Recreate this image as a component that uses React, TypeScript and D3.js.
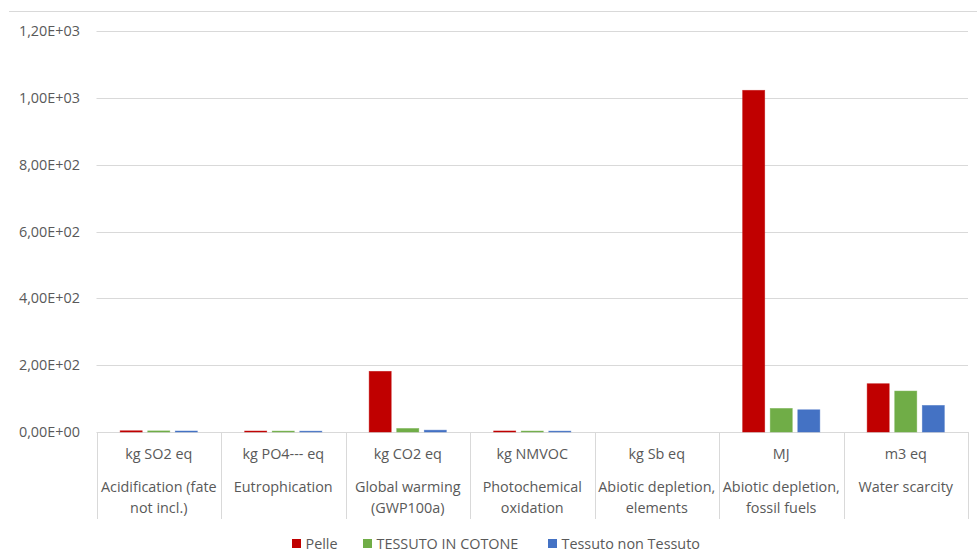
import React from "react";
import * as d3 from "d3";

const units = ["kg SO2 eq", "kg PO4--- eq", "kg CO2 eq", "kg NMVOC", "kg Sb eq", "MJ", "m3 eq"];
const categories = [
  ["Acidification (fate", "not incl.)"],
  ["Eutrophication"],
  ["Global warming", "(GWP100a)"],
  ["Photochemical", "oxidation"],
  ["Abiotic depletion,", "elements"],
  ["Abiotic depletion,", "fossil fuels"],
  ["Water scarcity"],
];
const seriesNames = ["Pelle", "TESSUTO IN COTONE", "Tessuto non Tessuto"];
const pelle = [2.2, 1.4, 180, 1.6, 0, 1021, 143];
const cotone = [1.8, 1.2, 9, 1.3, 0, 69, 121];
const tnt = [1.5, 1.0, 4, 1.1, 0, 65, 78];
const yTicks = [0, 200, 400, 600, 800, 1000, 1200];
const colors = ["#C00000", "#70AD47", "#4472C4"];

const W = 977;
const H = 551;
const left = 96.5;
const right = 968;
const top = 31;
const bottom = 432;
const font = "'Open Sans', 'Liberation Sans', sans-serif";
const textColor = "#595959";
const gridColor = "#D9D9D9";
const fs = 14.4;

const fmt = (v: number) => {
  const s = v.toExponential(2).toUpperCase().replace(".", ",");
  return s.replace(/E([+-])(\d)$/, "E$10$2");
};

export default function App() {
  const series = [pelle, cotone, tnt];
  const y = d3.scaleLinear().domain([0, 1200]).range([bottom, top]);
  const x = d3
    .scaleBand<number>()
    .domain(d3.range(units.length))
    .range([left, right])
    .paddingInner(0)
    .paddingOuter(0);
  const bw = x.bandwidth();
  const groupW = bw * 0.62;
  const inner = d3
    .scaleBand<number>()
    .domain(d3.range(series.length))
    .range([0, groupW])
    .paddingInner(0.2);

  return (
    <svg
      width={W}
      height={H}
      style={{ position: "absolute", left: 0, top: 0, background: "#fff" }}
      fontFamily={font}
    >
      <line x1={9} x2={W} y1={11.5} y2={11.5} stroke={gridColor} strokeWidth={1} />
      {yTicks.map((t) => (
        <g key={t}>
          <line
            x1={left}
            x2={right}
            y1={Math.round(y(t)) + 0.5}
            y2={Math.round(y(t)) + 0.5}
            stroke={gridColor}
            strokeWidth={1}
          />
          <text
            x={80}
            y={y(t) + 5}
            textAnchor="end"
            fontSize={fs}
            fill={textColor}
          >
            {fmt(t)}
          </text>
        </g>
      ))}
      {series.map((vals, si) =>
        vals.map((v, ci) =>
          v > 0 ? (
            <rect
              key={`${si}-${ci}`}
              x={(x(ci) as number) + (bw - groupW) / 2 + (inner(si) as number)}
              y={y(v) - 0.5}
              width={inner.bandwidth()}
              height={Math.max(bottom - y(v), 0) + 0.5}
              fill={colors[si]}
              stroke={colors[si]}
              strokeOpacity={0.6}
              strokeWidth={0.75}
            />
          ) : null
        )
      )}
      {d3.range(units.length + 1).map((i) => {
        const xx = Math.round(left + i * bw) + 0.5;
        return (
          <line key={i} x1={xx} x2={xx} y1={bottom} y2={519} stroke={gridColor} strokeWidth={1} />
        );
      })}
      {units.map((u, i) => {
        const cx = (x(i) as number) + bw / 2;
        return (
          <g key={u} fill={textColor} fontSize={fs} textAnchor="middle">
            <text x={cx} y={459}>
              {u}
            </text>
            {categories[i].map((line, li) => (
              <text key={li} x={cx} y={492 + li * 20.5}>
                {line}
              </text>
            ))}
          </g>
        );
      })}
      {(() => {
        const items = [292, 363, 548];
        return seriesNames.map((n, i) => (
          <g key={n}>
            <rect x={items[i]} y={539} width={9} height={9} fill={colors[i]} />
            <text x={items[i] + 13.5} y={548.5} fontSize={fs} fill={textColor}>
              {n}
            </text>
          </g>
        ));
      })()}
    </svg>
  );
}
